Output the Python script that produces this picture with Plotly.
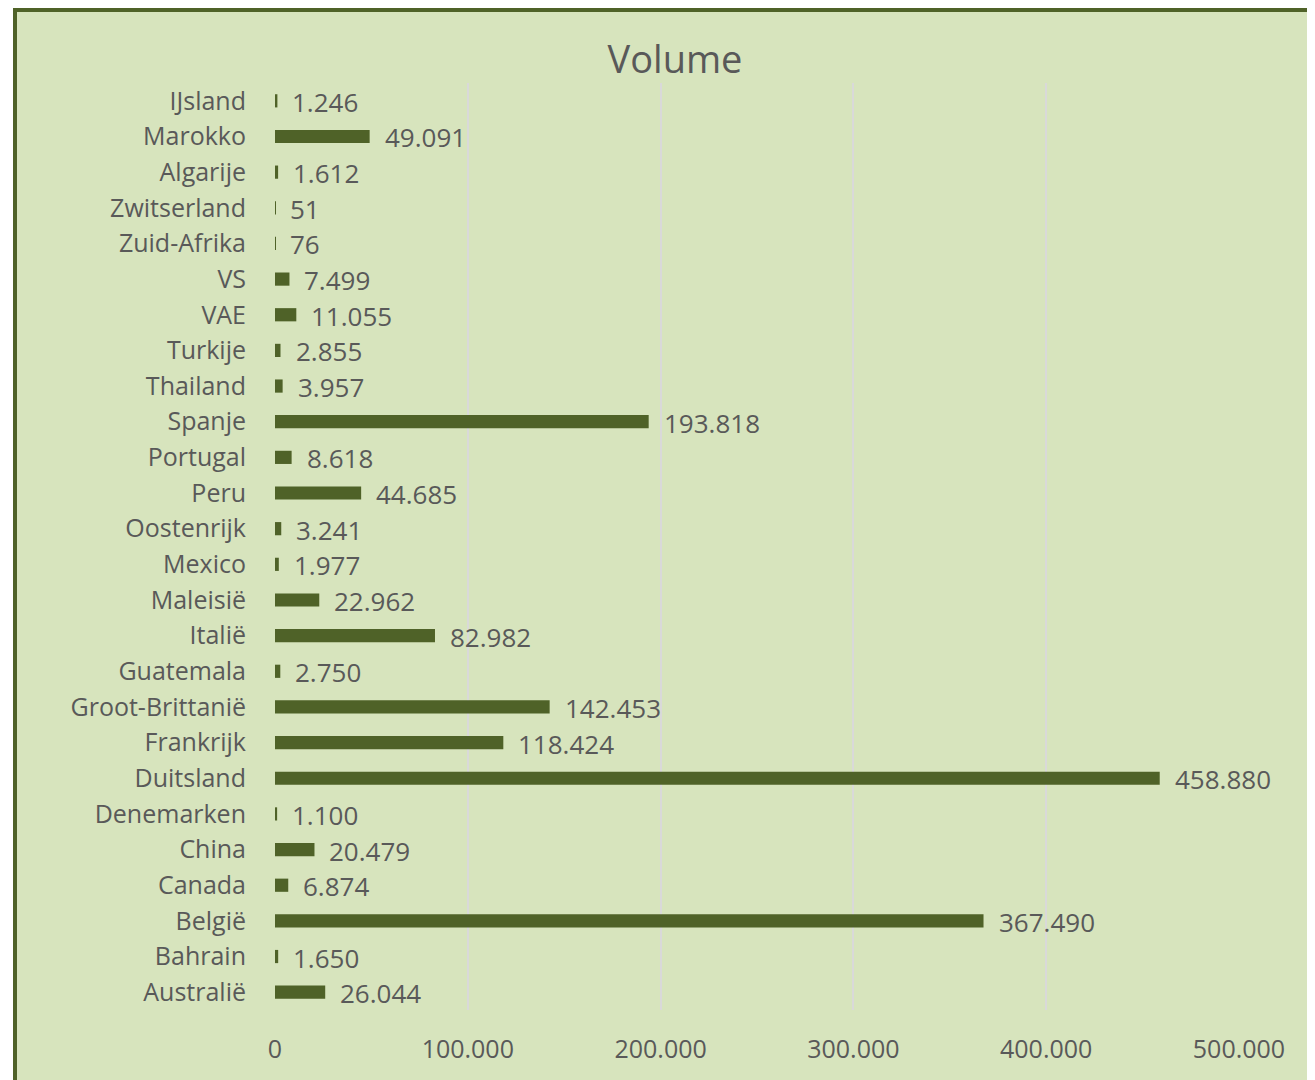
import plotly.graph_objects as go

countries = ["Australië", "Bahrain", "België", "Canada", "China", "Denemarken",
             "Duitsland", "Frankrijk", "Groot-Brittanië", "Guatemala", "Italië",
             "Maleisië", "Mexico", "Oostenrijk", "Peru", "Portugal", "Spanje",
             "Thailand", "Turkije", "VAE", "VS", "Zuid-Afrika", "Zwitserland",
             "Algarije", "Marokko", "IJsland"]
volumes = [26044, 1650, 367490, 6874, 20479, 1100, 458880, 118424, 142453, 2750,
           82982, 22962, 1977, 3241, 44685, 8618, 193818, 3957, 2855, 11055, 7499,
           76, 51, 1612, 49091, 1246]
x_ticks = [0, 100000, 200000, 300000, 400000, 500000]
x_tick_labels = ["0", "100.000", "200.000", "300.000", "400.000", "500.000"]

def fmt(v):
    return f"{v:,}".replace(",", ".")

OFF = 8  # page body offset
W, H = 1315 - OFF, 1080 - OFF
L, R, T, B = 275 - OFF, 1239 - OFF, 83 - OFF, 1010 - OFF
BG = "#D7E4BD"
BORDER = "#4F6228"
BAR = "#4F6228"
TXT = "#595959"
FONT = "Open Sans"

fig = go.Figure()
fig.add_trace(go.Bar(
    y=countries, x=volumes, orientation="h",
    marker=dict(color=BAR, line=dict(width=0)),
    width=0.37,
    hoverinfo="skip",
))

for c, v in zip(countries, volumes):
    fig.add_annotation(x=v, y=c, text=fmt(v), showarrow=False,
                       xanchor="left", xshift=13, yshift=-1,
                       font=dict(family=FONT, size=26, color=TXT))

def px_to_paper_x(px):
    return (px - OFF - L) / (R - L)

def px_to_paper_y(py):
    return (B - (py - OFF)) / (B - T)

fig.add_shape(type="rect", xref="paper", yref="paper",
              x0=px_to_paper_x(15), x1=px_to_paper_x(1345),
              y0=px_to_paper_y(1110), y1=px_to_paper_y(10),
              fillcolor=BG, line=dict(color=BORDER, width=4), layer="below")

fig.update_layout(
    width=W, height=H,
    margin=dict(l=L, r=W - R, t=T, b=H - B, pad=0),
    paper_bgcolor="white",
    plot_bgcolor="rgba(0,0,0,0)",
    showlegend=False,
    separators=",.",
    title=dict(text="Volume", x=(675 - OFF) / W, xref="container", xanchor="center",
               y=1 - (60 - OFF) / H, yref="container", yanchor="middle",
               font=dict(family=FONT, size=38, color=TXT)),
    xaxis=dict(range=[0, 500000], tickvals=x_ticks, ticktext=x_tick_labels,
               showgrid=True, gridcolor="#D9D9D9", gridwidth=2,
               zeroline=False, showline=False, ticks="",
               ticklabelstandoff=22, automargin=False,
               tickfont=dict(family=FONT, size=25, color=TXT)),
    yaxis=dict(range=[-0.5, 25.5], showgrid=False, zeroline=False, showline=False,
               ticks="", ticklabelstandoff=28, automargin=False,
               tickfont=dict(family=FONT, size=25, color=TXT)),
)

fig.write_html("out.html")
